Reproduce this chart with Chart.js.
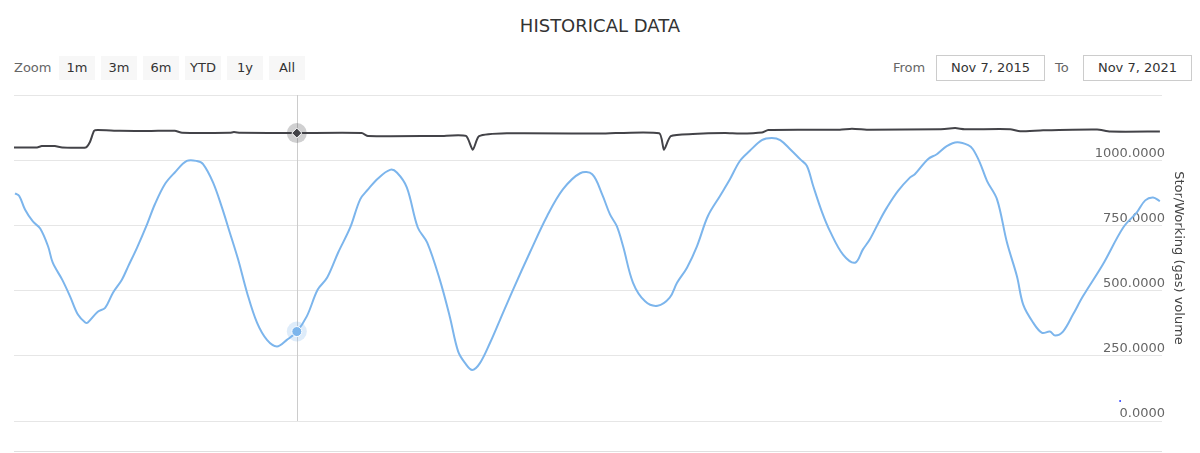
<!DOCTYPE html>
<html>
<head>
<meta charset="utf-8">
<script src="https://cdn.jsdelivr.net/npm/chart.js@4/dist/chart.umd.min.js"></script>
<style>
  html, body { margin: 0; padding: 0; background: #fff; }
  body { width: 1200px; height: 453px; position: relative; overflow: hidden; font-family: "DejaVu Sans", sans-serif; }
  #title { position: absolute; left: 0; top: 15px; width: 1200px; text-align: center; font-size: 18px; color: #333; }
  .lbl { position: absolute; top: 60px; font-size: 13px; color: #666; line-height: 16px; }
  .btn { position: absolute; top: 56px; width: 36px; height: 24px; background: #f7f7f7; color: #333; font-size: 13px; line-height: 23px; text-align: center; }
  .inp { position: absolute; top: 55px; width: 107px; height: 24px; border: 1px solid #ccc; color: #333; font-size: 13px; line-height: 23px; text-align: center; box-sizing: content-box; }
  #sep { position: absolute; left: 14px; top: 451px; width: 1148px; height: 0; border-top: 1px solid #e0e0e0; }
  #wrap { position: absolute; left: 0; top: 0; width: 1200px; height: 453px; }
</style>
</head>
<body>
<div id="title">HISTORICAL DATA</div>
<div class="lbl" style="left:14px">Zoom</div>
<div id="btns"></div>
<div class="lbl" style="left:893px">From</div>
<div class="inp" style="left:936px" id="fromBox"></div>
<div class="lbl" style="left:1055px">To</div>
<div class="inp" style="left:1083px" id="toBox"></div>
<div id="wrap"><canvas id="c" width="1200" height="453"></canvas></div>
<div id="sep"></div>
<script>
// ---------- data ----------
const rangeButtons = ['1m', '3m', '6m', 'YTD', '1y', 'All'];
const fromLabel = 'Nov 7, 2015';
const toLabel = 'Nov 7, 2021';
const totalDays = 2192;           // Nov 7, 2015 -> Nov 7, 2021
const hoverDay = 540;             // day of the highlighted point

// working gas volume (blue series): days since Nov 7, 2015 and values
const volumeDays = [2,10,21,36,50,65,74,92,107,122,136,141,160,174,189,206,218,235,254,269,288,307,330,349,361,380,397,412,428,445,464,483,502,521,540,559,580,598,619,642,661,676,695,718,731,750,771,789,813,832,848,861,875,890,909,928,953,985,1018,1048,1081,1104,1123,1138,1151,1163,1182,1205,1229,1252,1266,1285,1304,1325,1348,1367,1386,1405,1428,1447,1463,1482,1501,1514,1526,1543,1558,1583,1606,1621,1634,1654,1667,1688,1711,1720,1745,1762,1781,1801,1822,1831,1844,1858,1877,1896,1915,1927,1946,1963,1978,1988,2003,2022,2041,2079,2118,2144,2160,2175,2188];
const volumeValues = [873,863,811,765,738,670,607,542,478,408,378,378,419,434,492,542,593,665,754,831,908,953,997,997,985,915,819,723,619,492,377,311,286,311,343,401,504,550,646,742,850,888,930,963,953,896,742,684,542,401,267,223,196,223,300,388,504,646,786,888,950,946,869,792,747,670,530,459,442,473,530,588,670,786,863,927,997,1036,1077,1085,1077,1042,1004,978,901,800,728,638,607,658,696,773,819,882,934,946,1004,1023,1054,1069,1058,1042,992,920,850,684,555,446,377,338,343,328,343,408,478,600,742,800,846,857,843];

// capacity (dark series)
const capacityDays = [0,44,53,78,92,137,145,153,160,202,260,307,321,412,420,432,540,664,676,813,863,876,888,941,1119,1232,1241,1254,1296,1358,1386,1428,1440,1577,1600,1634,1768,1797,1815,1902,1921,1965,2068,2093,2188];
const capacityValues = [1049,1049,1054,1054,1049,1049,1070,1113,1116,1113,1112,1113,1105,1105,1108,1105,1104,1104,1093,1093,1093,1040,1092,1103,1102,1103,1040,1092,1100,1104,1102,1106,1116,1117,1121,1117,1119,1123,1119,1119,1111,1115,1118,1110,1110];

// stray single point
const strayDays = [2112];
const strayValues = [77];

const yTicks = [0, 250, 500, 750, 1000, 1250];

// ---------- page furniture ----------
document.getElementById('fromBox').textContent = fromLabel;
document.getElementById('toBox').textContent = toLabel;
const btns = document.getElementById('btns');
rangeButtons.forEach((t, i) => {
  const d = document.createElement('div');
  d.className = 'btn';
  d.style.left = (59 + i * 42) + 'px';
  d.textContent = t;
  btns.appendChild(d);
});

const toXY = (xs, ys) => xs.map((x, i) => ({ x: x, y: ys[i] }));

const hoverPlugin = {
  id: 'hoverMarks',
  beforeDatasetsDraw(chart) {
    const ctx = chart.ctx, a = chart.chartArea;
    const px = Math.round(chart.scales.x.getPixelForValue(hoverDay)) + 0.5;
    ctx.save();
    ctx.strokeStyle = '#cccccc';
    ctx.lineWidth = 1;
    ctx.beginPath();
    ctx.moveTo(px, a.top);
    ctx.lineTo(px, a.bottom);
    ctx.stroke();
    ctx.restore();
  },
  afterDatasetsDraw(chart) {
    const ctx = chart.ctx;
    chart.data.datasets.forEach((ds, di) => {
      if (!ds.hoverMark) return;
      const idx = ds.data.findIndex(p => p.x === hoverDay);
      if (idx < 0) return;
      const el = chart.getDatasetMeta(di).data[idx];
      ctx.save();
      ctx.fillStyle = ds.hoverMark.halo;
      ctx.beginPath();
      ctx.arc(el.x, el.y, 10, 0, Math.PI * 2);
      ctx.fill();
      ctx.fillStyle = ds.borderColor;
      ctx.strokeStyle = '#ffffff';
      ctx.lineWidth = 1;
      ctx.beginPath();
      if (ds.hoverMark.shape === 'diamond') {
        const r = 5;
        ctx.moveTo(el.x, el.y - r);
        ctx.lineTo(el.x + r, el.y);
        ctx.lineTo(el.x, el.y + r);
        ctx.lineTo(el.x - r, el.y);
        ctx.closePath();
      } else {
        ctx.arc(el.x, el.y, 5, 0, Math.PI * 2);
      }
      ctx.fill();
      ctx.stroke();
      ctx.restore();
    });
  }
};

new Chart(document.getElementById('c'), {
  type: 'line',
  data: {
    datasets: [
      {
        label: 'Capacity',
        data: toXY(capacityDays, capacityValues),
        borderColor: '#434348',
        borderWidth: 2,
        pointRadius: 0,
        tension: 0.2,
        hoverMark: { halo: 'rgba(67,67,72,0.25)', shape: 'diamond' }
      },
      {
        label: 'Stor/Working (gas) volume',
        data: toXY(volumeDays, volumeValues),
        borderColor: '#7cb5ec',
        borderWidth: 2,
        pointRadius: 0,
        tension: 0.35,
        hoverMark: { halo: 'rgba(124,181,236,0.25)', shape: 'circle' }
      },
      {
        label: 'point',
        type: 'scatter',
        data: toXY(strayDays, strayValues),
        backgroundColor: '#3344ff',
        borderWidth: 0,
        pointRadius: 1
      }
    ]
  },
  options: {
    responsive: false,
    animation: false,
    events: [],
    layout: { padding: { left: 14, right: 0, top: 95, bottom: 32 } },
    plugins: { legend: { display: false }, tooltip: { enabled: false }, title: { display: false } },
    scales: {
      x: {
        type: 'linear',
        min: 0,
        max: totalDays,
        display: false
      },
      y: {
        position: 'right',
        min: 0,
        max: 1250,
        afterBuildTicks(scale) { scale.ticks = yTicks.map(v => ({ value: v })); },
        afterFit(scale) { scale.width = 38; },
        grid: { color: '#e6e6e6', lineWidth: 1, drawTicks: false },
        border: { display: false },
        ticks: {
          mirror: true,
          padding: 3,
          labelOffset: -7,
          color: '#666666',
          font: { family: 'DejaVu Sans', size: 13 },
          callback: (v) => v === 1250 ? '' : Number(v).toFixed(4)
        },
        title: {
          display: true,
          text: 'Stor/Working (gas) volume',
          color: '#444444',
          font: { family: 'DejaVu Sans', size: 13 },
          padding: { top: 14, bottom: 0 }
        }
      }
    }
  },
  plugins: [hoverPlugin]
});
</script>
</body>
</html>
